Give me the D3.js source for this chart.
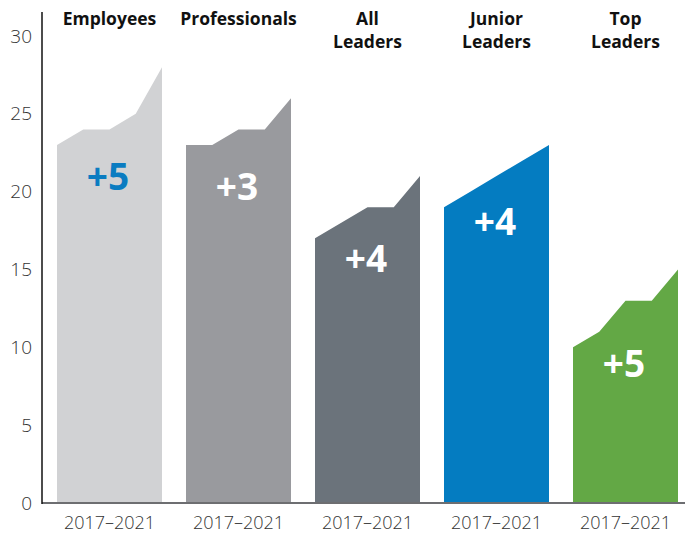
<!DOCTYPE html>
<html>
<head>
<meta charset="utf-8">
<script src="https://cdn.jsdelivr.net/npm/d3@7"></script>
<style>
  html, body { margin: 0; padding: 0; background: #fff; }
  svg { display: block; }
  text { font-family: "Open Sans", "Noto Sans", sans-serif; }
</style>
</head>
<body>
<svg id="chart" width="685" height="534"></svg>
<script>
// Groups shown as separate panels, each an area over 2017–2021
const groups = ["Employees", "Professionals", "All Leaders", "Junior Leaders", "Top Leaders"];
const titleLines = [["Employees"], ["Professionals"], ["All", "Leaders"], ["Junior", "Leaders"], ["Top", "Leaders"]];
const years = [2017, 2018, 2019, 2020, 2021];

const employees     = [23, 24, 24, 25, 28];
const professionals = [23, 23, 24, 24, 26];
const allLeaders    = [17, 18, 19, 19, 21];
const juniorLeaders = [19, 20, 21, 22, 23];
const topLeaders    = [10, 11, 13, 13, 15];

const changeLabels = ["+5", "+3", "+4", "+4", "+5"];
const periodLabel = "2017–2021";
const yTicks = [0, 5, 10, 15, 20, 25, 30];

const seriesValues = [employees, professionals, allLeaders, juniorLeaders, topLeaders];
const fills = ["#d1d2d4", "#999a9e", "#6b737b", "#047cc1", "#63a845"];
const labelColors = ["#0a7cc1", "#ffffff", "#ffffff", "#ffffff", "#ffffff"];
// vertical offset (px) of the change label below the 2017 edge of each area
const labelDrop = [45, 55, 34, 28, 30];

const svg = d3.select("#chart");

const y = d3.scaleLinear().domain([0, 30]).range([503, 36]);
const x = d3.scaleBand().domain(groups).range([57, 678]).paddingInner(24 / 129).paddingOuter(0);

// y axis
const yAxis = svg.append("g")
  .attr("transform", "translate(42,0)")
  .call(d3.axisLeft(y).tickValues(yTicks).tickSize(0).tickPadding(10));
yAxis.select(".domain").remove();
yAxis.selectAll("text")
  .attr("font-size", 19)
  .attr("font-weight", 300)
  .attr("fill", "#333")
  .style("font-family", '"Open Sans", sans-serif');

// panels
groups.forEach((g, i) => {
  const x0 = x(g);
  const xi = d3.scaleLinear().domain([0, years.length - 1]).range([x0, x0 + x.bandwidth()]);
  const vals = seriesValues[i];
  const area = d3.area()
    .x((d, j) => xi(j))
    .y0(y(0))
    .y1(d => y(d));

  svg.append("path")
    .datum(vals)
    .attr("d", area)
    .attr("fill", fills[i]);

  const cx = x0 + x.bandwidth() / 2;

  svg.append("text")
    .attr("x", cx - 1.5)
    .attr("y", y(vals[0]) + labelDrop[i])
    .attr("text-anchor", "middle")
    .attr("font-size", 37)
    .attr("font-weight", 700)
    .attr("fill", labelColors[i])
    .text(changeLabels[i]);

  const t = svg.append("text")
    .attr("text-anchor", "middle")
    .attr("font-size", 17.5)
    .attr("font-weight", 700)
    .attr("fill", "#111");
  titleLines[i].forEach((line, k) => {
    t.append("tspan").attr("x", cx).attr("y", 25 + k * 22.5).text(line);
  });

  svg.append("text")
    .attr("x", cx)
    .attr("y", 529)
    .attr("text-anchor", "middle")
    .attr("font-size", 18)
    .attr("font-weight", 300)
    .attr("fill", "#333")
    .text(periodLabel);
});

// axis lines
svg.append("line")
  .attr("x1", 42).attr("x2", 685)
  .attr("y1", y(0)).attr("y2", y(0))
  .attr("stroke", "#6d6e71").attr("stroke-width", 2);
svg.append("line")
  .attr("x1", 42).attr("x2", 42)
  .attr("y1", 12).attr("y2", y(0) + 1)
  .attr("stroke", "#111").attr("stroke-width", 1.5);
</script>
</body>
</html>
